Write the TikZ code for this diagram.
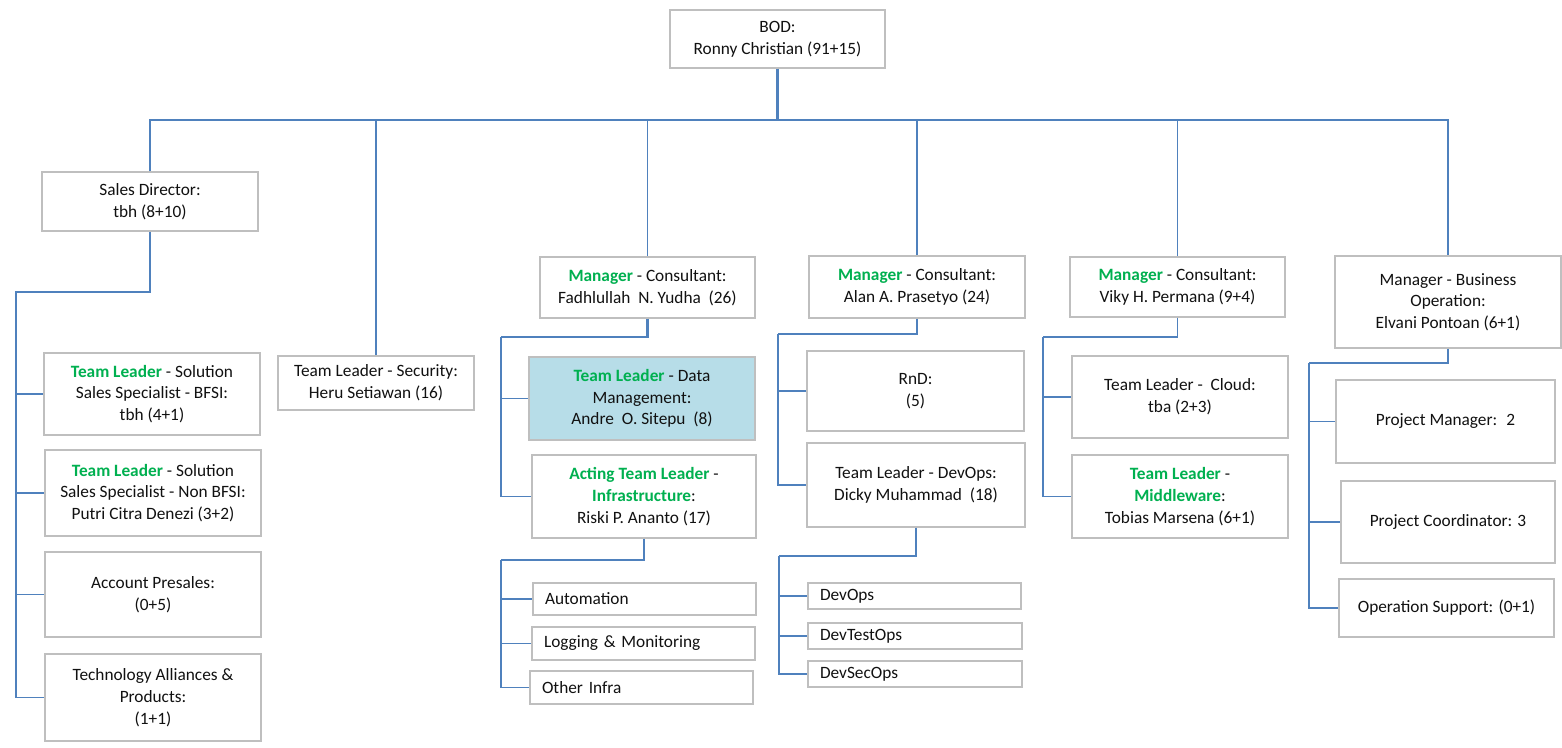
\documentclass[tikz,border=0pt]{standalone}
\usepackage{fontspec}
\setmainfont{Carlito}
\definecolor{boxgray}{HTML}{BFBFBF}
\definecolor{linkblue}{HTML}{4F81BD}
\definecolor{tlgreen}{HTML}{00B050}
\definecolor{datafill}{HTML}{B7DDE8}
\definecolor{txt}{HTML}{111111}
\newcommand{\gr}[1]{\textcolor{tlgreen}{\bfseries #1}}
\begin{document}
\begin{tikzpicture}[x=1pt,y=-1pt,
  box/.style={draw=boxgray, line width=1.2pt, fill=white, align=center, inner sep=0pt,
    text=txt, font=\fontsize{17.3}{21.7}\selectfont},
  smallbox/.style={box, align=left, inner xsep=12pt},
  conn/.style={draw=linkblue, line width=1.5pt},
  thickconn/.style={draw=linkblue, line width=2.5pt}]
\useasboundingbox (0,0) rectangle (1562,747);
\fill[white] (0,0) rectangle (1562,747);

% nodes
\node[box, minimum width=215pt, minimum height=58pt] (bod) at (777.5,39) {BOD:\\Ronny Christian (91+15)};
\node[box, minimum width=216pt, minimum height=59pt] (sales) at (150,201.5) {Sales Director:\\tbh (8+10)};
\node[box, minimum width=216pt, minimum height=82pt] (bfsi) at (152,394) {\gr{Team Leader} - Solution\\Sales Specialist - BFSI:\\tbh (4+1)};
\node[box, minimum width=216pt, minimum height=86pt] (nonbfsi) at (153,493) {\gr{Team Leader} - Solution\\Sales Specialist - Non BFSI:\\Putri Citra Denezi (3+2)};
\node[box, minimum width=216pt, minimum height=85pt] (presales) at (153,594.5) {Account Presales:\\(0+5)};
\node[box, minimum width=216pt, minimum height=87pt] (tech) at (153,697.5) {Technology Alliances \&\\Products:\\(1+1)};
\node[box, minimum width=196pt, minimum height=54pt] (security) at (376,383) {Team Leader - Security:\\Heru Setiawan (16)};

\node[box, minimum width=215pt, minimum height=61pt] (mfad) at (647.5,287.5) {\gr{Manager} - Consultant:\\Fadhlullah~ N. Yudha~ (26)};
\node[box, fill=datafill, minimum width=226pt, minimum height=83pt] (data) at (642,398.5) {\gr{Team Leader} - Data\\Management:\\Andre~ O. Sitepu~ (8)};
\node[box, minimum width=224pt, minimum height=83pt] (infra) at (644,496.5) {\gr{Acting Team Leader} -\\\gr{Infrastructure}:\\Riski P. Ananto (17)};
\node[smallbox, text width=199pt, minimum height=32pt] (auto) at (644.5,599) {Automation};
\node[smallbox, text width=199pt, minimum height=33pt] (logm) at (643.5,643.5) {Logging \& Monitoring};
\node[smallbox, text width=199pt, minimum height=33pt] (other) at (641.5,687.5) {Other Infra};

\node[box, minimum width=216pt, minimum height=62pt] (malan) at (917,287) {\gr{Manager} - Consultant:\\Alan A. Prasetyo (24)};
\node[box, minimum width=217pt, minimum height=80pt] (rnd) at (915.5,391) {RnD:\\(5)};
\node[box, minimum width=218pt, minimum height=84pt] (tldevops) at (916,485) {Team Leader - DevOps:\\Dicky Muhammad~ (18)};
\node[smallbox, text width=189pt, minimum height=26pt] (devops) at (914.5,596) {DevOps};
\node[smallbox, text width=190pt, minimum height=26pt] (devtest) at (915,636) {DevTestOps};
\node[smallbox, text width=190pt, minimum height=26pt] (devsec) at (915,674) {DevSecOps};

\node[box, minimum width=215pt, minimum height=60pt] (mviky) at (1177.5,287) {\gr{Manager} - Consultant:\\Viky H. Permana (9+4)};
\node[box, minimum width=216pt, minimum height=82pt] (cloud) at (1180,397) {Team Leader - ~Cloud:\\tba (2+3)};
\node[box, minimum width=216pt, minimum height=83pt] (middle) at (1180,496.5) {\gr{Team Leader} -\\\gr{Middleware}:\\Tobias Marsena (6+1)};

\node[box, minimum width=226pt, minimum height=92pt] (mbo) at (1448,302) {Manager - Business\\Operation:\\Elvani Pontoan (6+1)};
\node[box, minimum width=219pt, minimum height=83pt] (pm) at (1445.5,421.5) {Project Manager:~ 2};
\node[box, minimum width=214pt, minimum height=82pt] (pc) at (1448,522) {Project Coordinator: 3};
\node[box, minimum width=215pt, minimum height=58pt] (os) at (1446.5,608) {Operation Support: (0+1)};

% connector helper coordinates
\coordinate (bus) at (0,120);
\coordinate (sspine) at (16,292);
\coordinate (fspine) at (501,337);
\coordinate (ispine) at (501,560);
\coordinate (aspine) at (778,334);
\coordinate (dspine) at (779,556);
\coordinate (vspine) at (1043,337);
\coordinate (bspine) at (1309,363);

% top level
\draw[thickconn] (bod.south) -- (bod.south |- bus);
\draw[conn] (sales.north) -- (sales.north |- bus) -- (security.north |- bus);
\draw[thickconn] (security.north |- bus) -- (mviky.north |- bus);
\draw[conn] (mviky.north |- bus) -- (mbo.north |- bus) -- (mbo.north);
\draw[conn] (security.north |- bus) -- (security.north);
\draw[conn] (mfad.north |- bus) -- (mfad.north);
\draw[conn] (malan.north |- bus) -- (malan.north);
\draw[conn] (mviky.north |- bus) -- (mviky.north);

% sales
\draw[thickconn] (sales.south) |- (sspine) -- (sspine |- bfsi.west);
\draw[conn] (sspine |- bfsi.west) -- (sspine |- tech.west) -- (tech.west);
\draw[conn] (sspine |- bfsi.west) -- (bfsi.west);
\draw[conn] (sspine |- nonbfsi.west) -- (nonbfsi.west);
\draw[conn] (sspine |- presales.west) -- (presales.west);

% consultant Fadhlullah
\draw[thickconn] (mfad.south) |- (fspine);
\draw[conn] (fspine) -- (fspine |- infra.west) -- (infra.west);
\draw[conn] (fspine |- data.west) -- (data.west);
\draw[thickconn] (infra.south) |- (ispine);
\draw[conn] (ispine) -- (ispine |- other.west) -- (other.west);
\draw[conn] (ispine |- auto.west) -- (auto.west);
\draw[conn] (ispine |- logm.west) -- (logm.west);

% consultant Alan
\draw[thickconn] (malan.south) |- (aspine);
\draw[conn] (aspine) -- (aspine |- tldevops.west) -- (tldevops.west);
\draw[conn] (aspine |- rnd.west) -- (rnd.west);
\draw[thickconn] (tldevops.south) |- (dspine);
\draw[conn] (dspine) -- (dspine |- devsec.west) -- (devsec.west);
\draw[conn] (dspine |- devops.west) -- (devops.west);
\draw[conn] (dspine |- devtest.west) -- (devtest.west);

% consultant Viky
\draw[conn] (mviky.south) |- (vspine);
\draw[conn] (vspine) -- (vspine |- middle.west) -- (middle.west);
\draw[conn] (vspine |- cloud.west) -- (cloud.west);

% business operation
\draw[thickconn] (mbo.south) |- (bspine);
\draw[conn] (bspine) -- (bspine |- os.west) -- (os.west);
\draw[conn] (bspine |- pm.west) -- (pm.west);
\draw[conn] (bspine |- pc.west) -- (pc.west);
\end{tikzpicture}
\end{document}
